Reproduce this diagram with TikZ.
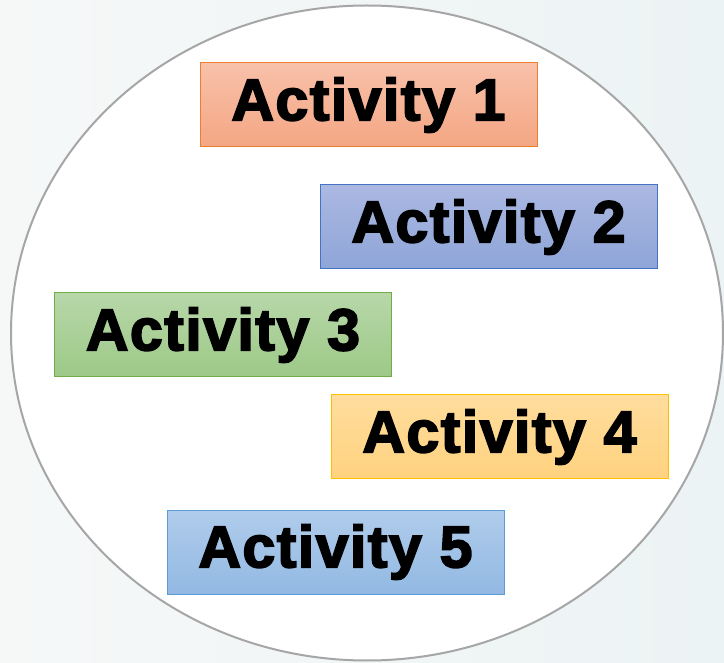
\documentclass[tikz,border=0pt]{standalone}
\usepackage{fontspec}
\setmainfont{Liberation Sans}
\newfontfamily\heavyfont[FakeBold=3, LetterSpace=2.5]{Liberation Sans Bold}
\usepackage{xcolor}
\usepackage{tikz}
\usetikzlibrary{shapes.geometric, positioning}

\definecolor{bgleft}{RGB}{246,248,248}
\definecolor{bgright}{RGB}{236,243,244}
\definecolor{ringgray}{RGB}{166,166,166}
\definecolor{orangetop}{RGB}{248,193,170}
\definecolor{orangebot}{RGB}{244,166,131}
\definecolor{orangeline}{RGB}{237,125,49}
\definecolor{bluetop}{RGB}{171,184,226}
\definecolor{bluebot}{RGB}{142,165,216}
\definecolor{blueline}{RGB}{68,114,196}
\definecolor{greentop}{RGB}{183,215,169}
\definecolor{greenbot}{RGB}{157,201,135}
\definecolor{greenline}{RGB}{112,173,71}
\definecolor{yellowtop}{RGB}{255,221,157}
\definecolor{yellowbot}{RGB}{255,210,127}
\definecolor{yellowline}{RGB}{255,192,0}
\definecolor{skytop}{RGB}{176,204,235}
\definecolor{skybot}{RGB}{146,185,227}
\definecolor{skyline}{RGB}{91,155,213}

\begin{document}
\begin{tikzpicture}[
    x=1pt, y=-1pt,
    activity/.style={rectangle, minimum width=337pt, minimum height=84pt, line width=1pt,
        inner sep=0pt, font=\heavyfont\fontsize{59}{64}\selectfont},
    ring/.style={ellipse, draw=ringgray, fill=white, line width=2pt,
        minimum width=712pt, minimum height=655pt, inner sep=0pt}
]
% Background
\useasboundingbox (0,0) rectangle (724,663);
\shade[left color=bgleft, right color=bgright] (0,0) rectangle (724,663);

% Circle
\node[ring] (circle) at (367,333) {};

% Activities
\node[activity, draw=orangeline, top color=orangetop, bottom color=orangebot] (act1) at (368.5,105) {Activity 1};
\node[activity, draw=blueline, top color=bluetop, bottom color=bluebot] (act2) at (488.5,227) {Activity 2};
\node[activity, draw=greenline, top color=greentop, bottom color=greenbot] (act3) at (223,335) {Activity 3};
\node[activity, draw=yellowline, top color=yellowtop, bottom color=yellowbot] (act4) at (499.5,437) {Activity 4};
\node[activity, draw=skyline, top color=skytop, bottom color=skybot] (act5) at (335.5,552) {Activity 5};

\end{tikzpicture}
\end{document}
